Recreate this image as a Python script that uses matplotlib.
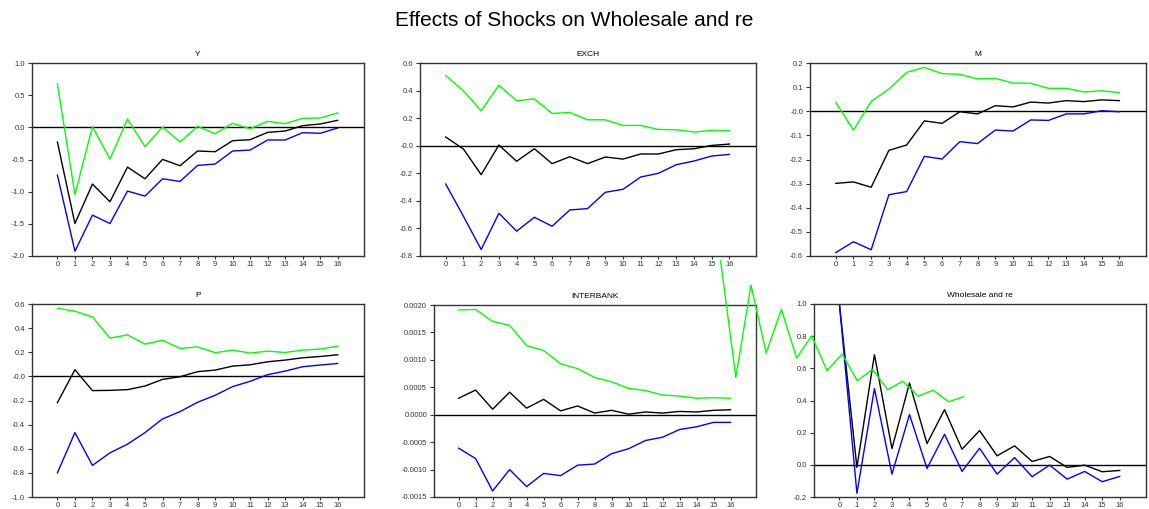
import numpy as np
import matplotlib
matplotlib.use('Agg')
import matplotlib.pyplot as plt

plt.rcParams['font.family'] = ['Liberation Sans', 'DejaVu Sans']

steps = list(range(17))

# impulse responses: black = estimate, green = upper band, blue = lower band
y_mid = [-0.228, -1.495, -0.882, -1.157, -0.618, -0.80, -0.498, -0.597, -0.368, -0.379, -0.208, -0.192, -0.078, -0.057, 0.026, 0.052, 0.109]
y_up = [0.675, -1.043, 0.01, -0.493, 0.13, -0.30, 0.005, -0.228, 0.016, -0.099, 0.062, -0.021, 0.093, 0.057, 0.14, 0.145, 0.223]
y_lo = [-0.742, -1.926, -1.365, -1.495, -0.991, -1.069, -0.80, -0.841, -0.592, -0.571, -0.368, -0.353, -0.197, -0.197, -0.083, -0.093, -0.01]

exch_mid = [0.063, -0.024, -0.21, 0.005, -0.113, -0.022, -0.130, -0.08, -0.130, -0.082, -0.097, -0.06, -0.06, -0.029, -0.022, 0.002, 0.012]
exch_up = [0.509, 0.398, 0.253, 0.439, 0.326, 0.340, 0.234, 0.241, 0.188, 0.188, 0.147, 0.147, 0.118, 0.116, 0.099, 0.111, 0.109]
exch_lo = [-0.278, -0.512, -0.753, -0.49, -0.62, -0.519, -0.584, -0.466, -0.456, -0.338, -0.316, -0.227, -0.20, -0.138, -0.111, -0.075, -0.063]

m_mid = [-0.299, -0.293, -0.315, -0.162, -0.140, -0.040, -0.050, -0.002, -0.011, 0.023, 0.018, 0.038, 0.034, 0.044, 0.040, 0.047, 0.044]
m_up = [0.037, -0.078, 0.041, 0.092, 0.161, 0.182, 0.156, 0.153, 0.134, 0.136, 0.117, 0.116, 0.095, 0.095, 0.080, 0.085, 0.077]
m_lo = [-0.586, -0.541, -0.574, -0.346, -0.333, -0.187, -0.198, -0.126, -0.134, -0.078, -0.082, -0.036, -0.038, -0.011, -0.011, 0.002, -0.002]

p_mid = [-0.218, 0.055, -0.118, -0.116, -0.11, -0.08, -0.025, -0.003, 0.039, 0.052, 0.085, 0.096, 0.121, 0.135, 0.154, 0.165, 0.179]
p_up = [0.565, 0.54, 0.493, 0.317, 0.344, 0.267, 0.30, 0.231, 0.245, 0.196, 0.218, 0.193, 0.209, 0.198, 0.218, 0.226, 0.251]
p_lo = [-0.80, -0.466, -0.738, -0.634, -0.562, -0.466, -0.353, -0.292, -0.215, -0.157, -0.085, -0.041, 0.014, 0.044, 0.08, 0.094, 0.107]

ib_mid = [0.00030, 0.00045, 0.00010, 0.00041, 0.00012, 0.00028, 0.00007, 0.00016, 0.00003, 0.00008, 0.00001, 0.00005, 0.00003, 0.00006, 0.00005, 0.00008, 0.00009]
ib_up = [0.00191, 0.00192, 0.00170, 0.00163, 0.00126, 0.00117, 0.00093, 0.00084, 0.00068, 0.00060, 0.00048, 0.00044, 0.00036, 0.00034, 0.00030, 0.00031, 0.00030]
ib_lo = [-0.00061, -0.00080, -0.00139, -0.00100, -0.00131, -0.00107, -0.00111, -0.00092, -0.00090, -0.00071, -0.00062, -0.00047, -0.00041, -0.00027, -0.00022, -0.00014, -0.00014]

ws_mid = [1.0, -0.016, 0.685, 0.101, 0.509, 0.132, 0.343, 0.097, 0.213, 0.056, 0.118, 0.021, 0.052, -0.016, -0.002, -0.043, -0.035]
ws_up = [1.268, 0.544, 1.117, 0.695, 0.967, 0.664, 0.802, 0.586, 0.689, 0.522, 0.594, 0.468, 0.520, 0.427, 0.464, 0.392, 0.423]
ws_lo = [1.0, -0.177, 0.474, -0.058, 0.313, -0.023, 0.19, -0.041, 0.103, -0.058, 0.045, -0.074, -0.002, -0.089, -0.041, -0.105, -0.072]
# the upper band of the last panel sits on its own shifted x grid
ws_up_x = np.arange(17) * 0.867 - 6.78

W, H = 1149, 509
fig = plt.figure(figsize=(W / 100, H / 100), dpi=100)
fig.text(0.5, 1 - 20 / H, 'Effects of Shocks on Wholesale and re', ha='center', va='center', fontsize=15)

def box(l, r, t, b):
    return [l / W, 1 - b / H, (r - l) / W, (b - t) / H]

panels = [
    ('Y', y_mid, y_up, y_lo, box(32, 364, 63, 256), (-2.0, 1.0), np.arange(-2.0, 1.01, 0.5), '%.1f'),
    ('EXCH', exch_mid, exch_up, exch_lo, box(420, 756, 63, 256), (-0.8, 0.6), np.arange(-0.8, 0.61, 0.2), '%.1f'),
    ('M', m_mid, m_up, m_lo, box(810, 1146, 63, 256), (-0.6, 0.2), np.arange(-0.6, 0.21, 0.1), '%.1f'),
    ('P', p_mid, p_up, p_lo, box(32, 364, 304, 497), (-1.0, 0.6), np.arange(-1.0, 0.61, 0.2), '%.1f'),
    ('INTERBANK', ib_mid, ib_up, ib_lo, box(434, 756, 305, 497), (-0.0015, 0.0020), np.arange(-0.0015, 0.00201, 0.0005), '%.4f'),
    ('Wholesale and re', ws_mid, ws_up, ws_lo, box(814, 1146, 304, 497), (-0.2, 1.0), np.arange(-0.2, 1.01, 0.2), '%.1f'),
]

for name, mid, up, lo, pos, ylim, yt, fmt in panels:
    ax = fig.add_axes(pos)
    ax.axhline(0, color='black', lw=1)
    ax.plot(steps, mid, color='black', lw=1)
    if name == 'Wholesale and re':
        ax.plot(ws_up_x, up, color='#00ff00', lw=1, clip_on=False, zorder=5)
    else:
        ax.plot(steps, up, color='#00ff00', lw=1)
    ax.plot(steps, lo, color='#0000ff', lw=1)
    ax.set_xlim(-1.45, 17.5)
    ax.set_ylim(*ylim)
    ax.set_xticks(steps)
    ax.set_yticks(yt)
    labels = []
    for v in yt:
        s = fmt % v
        if abs(v) < 1e-9:
            s = fmt % 0.0
            if name in ('EXCH', 'M', 'P'):
                s = '-' + s
        labels.append(s)
    ax.set_yticklabels(labels)
    ax.tick_params(axis='x', length=2.5, width=0.8, labelsize=5.5, pad=1, colors='#333333')
    ax.tick_params(axis='y', length=3, width=0.8, labelsize=5.5, pad=2, colors='#333333')
    for sp in ax.spines.values():
        sp.set_linewidth(1.0)
        sp.set_color('#333333')
    ax.set_title(name, fontsize=6, pad=5)

fig.savefig('out.png', dpi=100)
